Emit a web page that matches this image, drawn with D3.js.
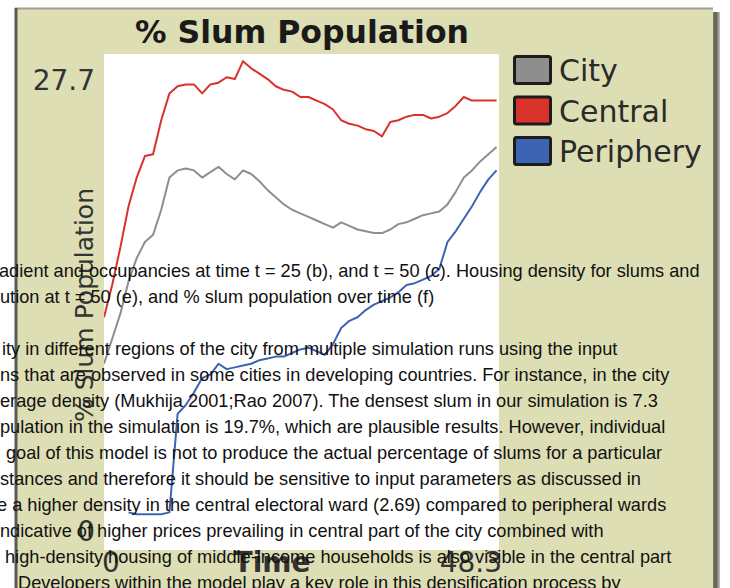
<!DOCTYPE html>
<html><head><meta charset="utf-8">
<script src="https://cdn.jsdelivr.net/npm/d3@7"></script>
<style>body{margin:0;background:#fff;} svg{display:block}</style>
</head><body>
<svg id="c" width="730" height="588"></svg>
<script>
const title = "% Slum Population";
const yLabel = "% Slum Population";
const xLabel = "Time";
const yMin = 0, yMax = 27.7;
const xMin = 0, xMax = 48.3;
const yTickLabels = ["0", "27.7"];
const xTickLabels = ["0", "48.3"];
const seriesNames = ["City", "Central", "Periphery"];
const seriesColors = ["#8e8e8e", "#d9322b", "#3c64b2"];
const time = [0,1,2,3,4,5,6,7,8,9,10,11,12,13,14,15,16,17,18,19,20,21,22,23,24,25,26,27,28,29,30,31,32,33,34,35,36,37,38,39,40,41,42,43,44,45,46,47,48];
const city = [10.4,11.8,13.2,15.0,16.3,17.2,17.6,19.0,20.8,21.2,21.3,21.2,20.8,21.1,21.4,21.0,20.7,21.2,21.0,20.6,20.1,19.7,19.3,19.0,18.8,18.6,18.4,18.2,18.0,18.3,18.1,17.9,17.8,17.7,17.7,17.9,18.2,18.3,18.5,18.7,18.8,18.9,19.3,20.0,20.8,21.2,21.7,22.1,22.5];
const central = [13.0,14.8,16.9,19.2,20.8,22.0,22.1,24.0,25.5,25.9,26.0,26.0,25.5,26.0,26.1,26.4,26.3,27.3,26.9,26.6,26.3,25.9,25.7,25.6,25.3,25.3,25.1,24.9,24.6,24.0,23.8,23.7,23.5,23.4,23.1,23.9,24.0,24.2,24.3,24.3,24.1,24.2,24.4,24.8,25.3,25.1,25.1,25.1,25.1];
const periphery = [null,null,null,2.1,2.0,2.0,2.0,2.0,2.1,7.6,8.1,8.8,9.6,9.8,10.4,10.1,10.2,10.3,10.4,10.6,10.7,10.8,10.8,11.0,11.2,11.3,11.1,10.9,11.5,12.4,12.8,13.0,13.4,13.7,13.9,14.1,14.4,14.8,14.9,15.1,15.3,15.7,17.2,17.8,18.5,19.2,20.0,20.7,21.2];
const paperLines = [
  "adient and occupancies at time t = 25 (b), and t = 50 (c). Housing density for slums and",
  "ution at t = 50 (e), and % slum population over time (f)",
  "",
  "ity in different regions of the city from multiple simulation runs using the input",
  "ns that are observed in some cities in developing countries. For instance, in the city",
  "erage density (Mukhija 2001;Rao 2007). The densest slum in our simulation is 7.3",
  "pulation in the simulation is 19.7%, which are plausible results. However, individual",
  "goal of this model is not to produce the actual percentage of slums for a particular",
  "stances and therefore it should be sensitive to input parameters as discussed in",
  "e a higher density in the central electoral ward (2.69) compared to peripheral wards",
  "ndicative of higher prices prevailing in central part of the city combined with",
  "high-density housing of middle-income households is also visible in the central part",
  "Developers within the model play a key role in this densification process by"
];
const paperLineStarts = [-1,0,0,2,0,0,0,6,0,-3,0,5,18];

const svg = d3.select("#c");
const W = 730, H = 588;
const plot = {left:104, right:499, top:54, bottom:550};

// panel
const defs = svg.append("defs");
const g1 = defs.append("linearGradient").attr("id","shadowR").attr("x1","0").attr("x2","1");
g1.append("stop").attr("offset","0").attr("stop-color","#8a8a78");
g1.append("stop").attr("offset","0.5").attr("stop-color","#5c5c50");
g1.append("stop").attr("offset","1").attr("stop-color","#c8c8c0");

svg.append("rect").attr("x",0).attr("y",0).attr("width",W).attr("height",H).attr("fill","#fff");
svg.append("rect").attr("x",712).attr("y",12).attr("width",8).attr("height",H).attr("fill","url(#shadowR)");
svg.append("rect").attr("x",15).attr("y",8).attr("width",698).attr("height",H).attr("fill","#dddeb3");
svg.append("line").attr("x1",15).attr("x2",713).attr("y1",8.5).attr("y2",8.5).attr("stroke","#a0a094").attr("stroke-width",2);
svg.append("line").attr("x1",16).attr("x2",16).attr("y1",8).attr("y2",H).attr("stroke","#5a5a55").attr("stroke-width",3);

const x = d3.scaleLinear().domain([xMin, xMax]).range([plot.left, plot.right]);
const y = d3.scaleLinear().domain([yMin, yMax]).range([plot.bottom, plot.top]);

svg.append("rect").attr("x",plot.left).attr("y",plot.top)
  .attr("width",plot.right-plot.left).attr("height",plot.bottom-plot.top).attr("fill","#fff");

svg.append("clipPath").attr("id","pc").append("rect")
  .attr("x",plot.left).attr("y",plot.top-4).attr("width",plot.right-plot.left).attr("height",plot.bottom-plot.top+4);

const line = d3.line().defined(d=>d!==null).x((d,i)=>x(time[i])).y(d=>y(d));
const series = [city, central, periphery];
const lg = svg.append("g").attr("clip-path","url(#pc)");
series.forEach((s,i)=>{
  lg.append("path").attr("d", line(s)).attr("fill","none")
    .attr("stroke", seriesColors[i]).attr("stroke-width",2).attr("stroke-linejoin","round");
});

// title
svg.append("text").attr("x",302).attr("y",43).attr("text-anchor","middle")
  .attr("font-family","DejaVu Sans").attr("font-weight","bold").attr("font-size",31.5)
  .attr("fill","#1a1a1a").text(title);

// y tick labels
const lblFont = "DejaVu Sans";
svg.append("text").attr("x",95).attr("y",y(yMax)+36).attr("text-anchor","end")
  .attr("font-family",lblFont).attr("font-size",28).attr("fill","#333").text(yTickLabels[1]);
svg.append("text").attr("x",95).attr("y",y(yMin)-9).attr("text-anchor","end")
  .attr("font-family",lblFont).attr("font-size",28).attr("fill","#333").text(yTickLabels[0]);
// x tick labels
svg.append("text").attr("x",x(xMin)-2).attr("y",572).attr("text-anchor","start")
  .attr("font-family",lblFont).attr("font-size",28).attr("fill","#333").text(xTickLabels[0]);
svg.append("text").attr("x",x(xMax)+3).attr("y",572).attr("text-anchor","end")
  .attr("font-family",lblFont).attr("font-size",28).attr("fill","#333").text(xTickLabels[1]);
// axis names
svg.append("text").attr("x",272).attr("y",572).attr("text-anchor","middle")
  .attr("font-family",lblFont).attr("font-weight","bold").attr("font-size",28).attr("fill","#333").text(xLabel);
svg.append("text").attr("transform",`translate(93,305) rotate(-90)`)
  .attr("text-anchor","middle").attr("font-family",lblFont).attr("font-size",25).attr("fill","#333").text(yLabel);

// legend
const leg = svg.append("g");
seriesNames.forEach((n,i)=>{
  const yy = 55 + i*40.5;
  leg.append("rect").attr("x",514.5).attr("y",yy+1.5).attr("width",36).attr("height",27).attr("rx",2)
    .attr("fill",seriesColors[i]).attr("stroke","#1c1c1c").attr("stroke-width",3);
  leg.append("text").attr("x",559).attr("y",yy+26).attr("font-family",lblFont).attr("font-size",30)
    .attr("fill","#2a2a2a").text(n);
});

// overlay paper text
const baseY0 = 277, lh = 26.0;
const tg = svg.append("g").attr("font-family","Liberation Sans, Arial").attr("font-size",18.2).attr("fill","#111");
paperLines.forEach((t,i)=>{
  if(!t) return;
  tg.append("text").attr("x",paperLineStarts[i]).attr("y",baseY0 + i*lh).attr("text-anchor","start").text(t);
});
</script>
</body></html>
